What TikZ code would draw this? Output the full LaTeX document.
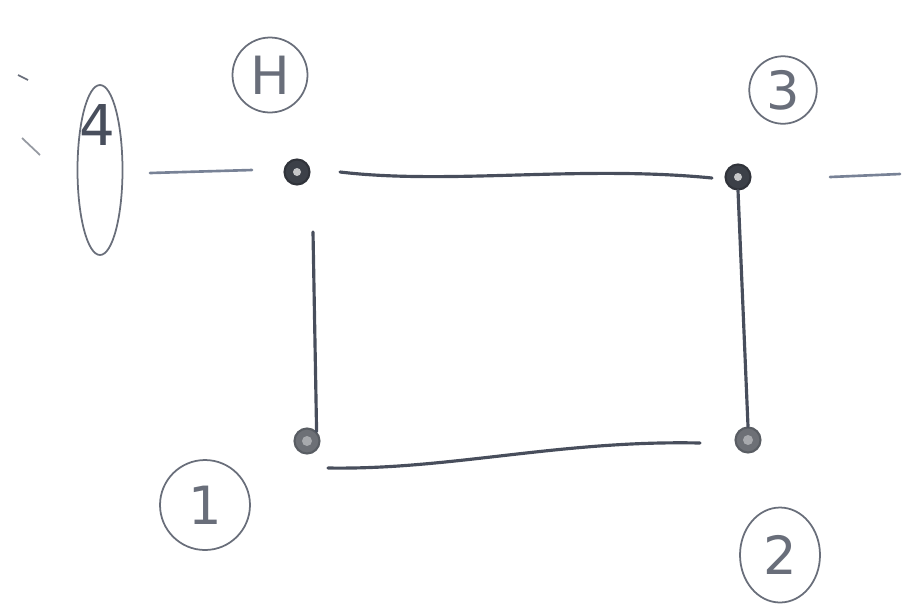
\documentclass[tikz,border=0pt]{standalone}
\usepackage{fontspec}
\setsansfont{DejaVu Sans}
\usetikzlibrary{shapes.geometric,calc}
\definecolor{ink}{RGB}{72,78,92}
\definecolor{pencil}{RGB}{105,110,122}
\definecolor{dotc}{RGB}{60,64,72}
\definecolor{dashc}{RGB}{120,130,150}
\begin{document}
\begin{tikzpicture}[x=0.02cm,y=-0.02cm,
  dotnode/.style={circle,fill=dotc,draw=dotc!80!black,line width=1.2pt,minimum size=0.5cm,inner sep=0pt},
  label/.style={circle,draw=pencil,line width=1pt,text=pencil,font=\sffamily\fontsize{30}{30}\selectfont,inner sep=0pt},
  edge/.style={draw=ink,line width=1.8pt,line cap=round},
  dashln/.style={draw=dashc,line width=1.5pt,line cap=round}]
\useasboundingbox (0,0) rectangle (905,603);
% dots
\node[dotnode] (H) at (297,172) {};
\node[dotnode] (D3) at (738,177) {};
\node[dotnode,fill=dotc!75,draw=dotc!85] (D1) at (307,441) {};
\node[dotnode,fill=dotc!75,draw=dotc!85] (D2) at (748,440) {};
\fill[white!70!dotc] (H) circle (4);
\fill[white!70!dotc] (D3) circle (4);
\fill[white!55!dotc] (D1) circle (5);
\fill[white!55!dotc] (D2) circle (5);
% circled labels
\node[label,minimum size=1.5cm] (LH) at (270,75) {H};
\node[label,minimum size=1.35cm] (L3) at (783,90) {3};
\node[label,minimum size=1.8cm] (L1) at (205,505) {1};
\node[label,ellipse,minimum width=1.6cm,minimum height=1.9cm] (L2) at (780,555) {2};
% ellipse with 4
\node[ellipse,draw=pencil,line width=1pt,minimum width=0.9cm,minimum height=3.4cm,inner sep=0pt] (E4) at (100,170) {};
\node[text=ink,font=\sffamily\fontsize{32}{32}\selectfont] (T4) at (97,125) {4};
% connectors
\coordinate (t1) at (340,172);
\coordinate (t2) at (712,178);
\draw[edge] (t1) .. controls (450,185) and (580,165) .. (t2);
\coordinate (l1) at (313,232);
\draw[edge] (l1) -- (D1.north east);
\draw[edge] (D3.south) -- (D2.north);
\coordinate (b1) at (328,468);
\coordinate (b2) at (700,443);
\draw[edge] (b1) .. controls (450,470) and (560,440) .. (b2);
% dashed axis pieces
\coordinate (d0a) at (150,173);
\coordinate (d0b) at (252,170);
\draw[dashln] (d0a) -- (d0b);
\coordinate (d2) at (830,177);
\coordinate (d3) at (900,174);
\draw[dashln] (d2) -- (d3);
\coordinate (s1) at (18,75);
\coordinate (s2) at (28,80);
\draw[pencil,line width=1pt] (s1) -- (s2);
\coordinate (s3) at (22,138);
\coordinate (s4) at (40,155);
\draw[pencil!70,line width=1pt] (s3) -- (s4);
\end{tikzpicture}
\end{document}
